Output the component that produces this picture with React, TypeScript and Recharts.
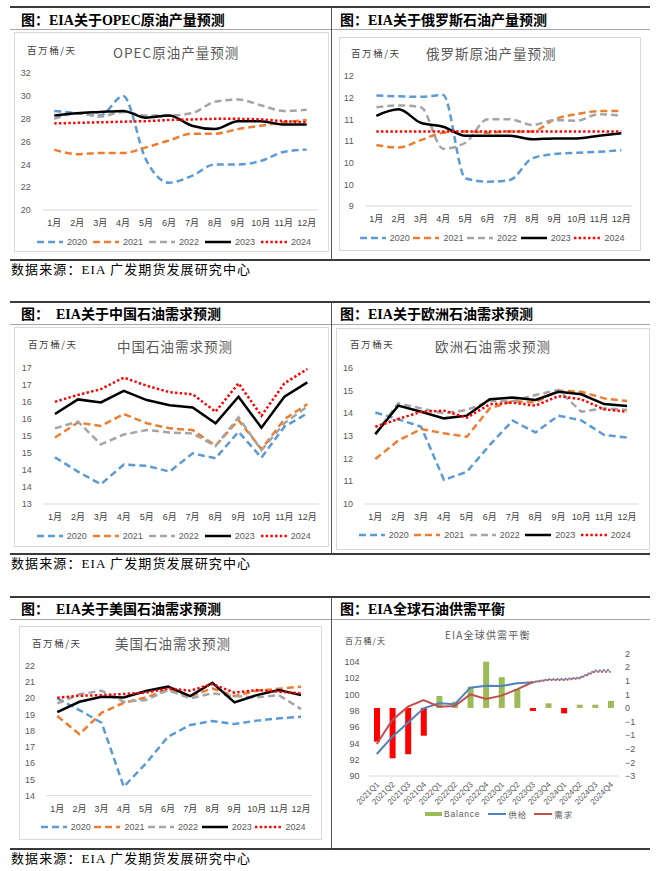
import React from 'react';
import { LineChart, Line, XAxis, YAxis, ComposedChart, Bar, Cell } from 'recharts';

// ---- data ----
const months = ['1月', '2月', '3月', '4月', '5月', '6月', '7月', '8月', '9月', '10月', '11月', '12月'];

const opec2020 = [28.7, 28.5, 28.3, 30.0, 24.4, 22.4, 23.0, 24.0, 24.0, 24.3, 25.1, 25.3];
const opec2021 = [25.3, 24.9, 25.0, 25.0, 25.5, 26.1, 26.7, 26.7, 27.1, 27.4, 27.7, 27.9];
const opec2022 = [28.0, 28.5, 28.2, 28.6, 28.3, 28.3, 28.5, 29.5, 29.7, 29.2, 28.7, 28.8];
const opec2023 = [28.3, 28.5, 28.6, 28.7, 28.1, 28.3, 27.4, 27.1, 27.8, 27.8, 27.5, 27.5];
const opec2024 = [27.6, 27.65, 27.7, 27.75, 27.8, 27.9, 27.95, 28.0, 28.0, 27.95, 27.8, 27.7];

const rus2020 = [11.55, 11.53, 11.52, 11.56, 9.64, 9.56, 9.6, 10.1, 10.2, 10.23, 10.25, 10.29];
const rus2021 = [10.41, 10.35, 10.52, 10.69, 10.72, 10.69, 10.72, 10.72, 11.0, 11.12, 11.19, 11.19];
const rus2022 = [11.28, 11.32, 11.28, 10.32, 10.46, 11.0, 11.0, 10.87, 10.98, 10.97, 11.12, 11.08];
const rus2023 = [11.08, 11.23, 10.92, 10.83, 10.62, 10.62, 10.62, 10.54, 10.56, 10.56, 10.62, 10.68];
const rus2024 = [10.72, 10.72, 10.72, 10.72, 10.72, 10.72, 10.72, 10.72, 10.72, 10.72, 10.72, 10.72];

const chn2020 = [14.37, 13.95, 13.58, 14.16, 14.12, 13.95, 14.49, 14.34, 15.12, 14.36, 15.27, 15.66];
const chn2021 = [14.95, 15.39, 15.29, 15.64, 15.37, 15.22, 15.17, 14.71, 15.46, 14.61, 15.49, 15.93];
const chn2022 = [15.22, 15.42, 14.75, 15.04, 15.17, 15.1, 15.07, 14.7, 15.54, 14.58, 15.37, 15.86];
const chn2023 = [15.64, 16.07, 15.98, 16.32, 16.05, 15.9, 15.83, 15.37, 16.15, 15.24, 16.15, 16.57];
const chn2024 = [16.0, 16.2, 16.37, 16.71, 16.47, 16.28, 16.22, 15.71, 16.54, 15.59, 16.54, 16.96];

const eur2020 = [14.03, 13.73, 13.4, 11.06, 11.42, 12.6, 13.67, 13.15, 13.89, 13.68, 13.04, 12.93];
const eur2021 = [11.98, 12.79, 13.3, 13.11, 12.96, 14.21, 14.53, 14.47, 14.99, 14.94, 14.65, 14.53];
const eur2022 = [13.1, 14.43, 14.21, 13.99, 14.14, 14.53, 14.53, 14.8, 15.02, 14.06, 14.21, 14.14];
const eur2023 = [13.07, 14.33, 14.06, 13.77, 13.89, 14.61, 14.69, 14.58, 14.94, 14.83, 14.4, 14.31];
const eur2024 = [13.4, 13.74, 14.06, 14.11, 13.8, 14.39, 14.46, 14.33, 14.75, 14.61, 14.17, 14.06];

const usa2020 = [19.99, 19.27, 18.49, 14.55, 15.99, 17.63, 18.35, 18.6, 18.41, 18.62, 18.76, 18.86];
const usa2021 = [18.9, 17.79, 19.1, 19.72, 20.05, 20.54, 20.13, 20.6, 20.13, 20.46, 20.58, 20.71];
const usa2022 = [19.68, 20.24, 20.46, 19.78, 19.89, 20.5, 19.99, 20.3, 20.13, 20.05, 20.19, 19.33];
const usa2023 = [19.15, 19.78, 20.09, 20.05, 20.44, 20.71, 20.13, 20.95, 19.74, 20.19, 20.5, 20.19];
const usa2024 = [20.03, 20.15, 20.19, 20.26, 20.34, 20.6, 20.46, 20.87, 20.34, 20.5, 20.4, 20.3];

const quarters = [
  '2021Q1', '2021Q2', '2021Q3', '2021Q4', '2022Q1', '2022Q2', '2022Q3', '2022Q4',
  '2023Q1', '2023Q2', '2023Q3', '2023Q4', '2024Q1', '2024Q2', '2024Q3', '2024Q4',
];
const balance = [-1.24, -1.85, -1.7, -1.02, 0.44, 0.23, 0.78, 1.7, 1.13, 0.69, -0.11, 0.17, -0.2, 0.12, 0.12, 0.26];
const supply = [92.69, 94.82, 96.53, 98.29, 98.9, 98.78, 100.82, 101.06, 101.02, 101.35, 101.47, 101.84, 101.88, 102.04, 102.9, 102.98];
const demand = [93.92, 96.86, 98.49, 99.31, 98.49, 98.57, 100.0, 99.43, 99.84, 100.61, 101.51, 101.76, 101.76, 101.96, 102.78, 102.78];
const forecastFrom = 10; // 2023Q3 onward drawn dotted

// ---- styles ----
const FONT_SANS = '"Liberation Sans", Arial, "Noto Sans CJK SC", sans-serif';
const FONT_CJK = '"Noto Sans CJK SC", "Liberation Sans", sans-serif';
const FONT_SERIF = '"Liberation Serif", "Noto Sans CJK SC", serif';
const AXIS_GRAY = '#d9d9d9';
const TEXT_GRAY = '#595959';

type Series = { key: string; name: string; color: string; width: number; dash?: string };

const yearSeries: Series[] = [
  { key: 'y2020', name: '2020', color: '#5B9BD5', width: 2.5, dash: '7 4' },
  { key: 'y2021', name: '2021', color: '#ED7D31', width: 2.5, dash: '7 4' },
  { key: 'y2022', name: '2022', color: '#A5A5A5', width: 2.5, dash: '7 4' },
  { key: 'y2023', name: '2023', color: '#000000', width: 2.5 },
  { key: 'y2024', name: '2024', color: '#FF0000', width: 2.5, dash: '2.4 2.3' },
];

const toRows = (cols: number[][]) =>
  months.map((m, i) => {
    const row: Record<string, string | number> = { month: m };
    yearSeries.forEach((s, k) => {
      row[s.key] = cols[k][i];
    });
    return row;
  });

const roundFmt = (v: number) => String(Math.round(v));
const plainFmt = (v: number) => String(v);
const signedFmt = (v: number) => {
  const r = Math.sign(v) * Math.round(Math.abs(v));
  return r < 0 ? '\u2212' + Math.abs(r) : String(r);
};
const range = (a: number, b: number, step: number) => {
  const out: number[] = [];
  for (let v = a; v <= b + 1e-9; v += step) out.push(Math.round(v * 100) / 100);
  return out;
};

type Box = { x: number; y: number; w: number; h: number };

const Txt = ({ x, cy, size, children, color = '#000', family = FONT_CJK, weight = 400, ls = 0 }: any) => (
  <div
    style={{
      position: 'absolute',
      left: x,
      top: cy - 9,
      height: 18,
      lineHeight: '18px',
      fontSize: size,
      color,
      fontFamily: family,
      fontWeight: weight,
      letterSpacing: ls,
      whiteSpace: 'nowrap',
    }}
  >
    {children}
  </div>
);

const Rule = ({ x, y, w, h, color }: any) => (
  <div style={{ position: 'absolute', left: x, top: y, width: w, height: h, background: color }} />
);

const YearLegend = ({ x, cy, step }: { x: number; cy: number; step: number }) => (
  <div style={{ position: 'absolute', left: x, top: cy - 6, height: 12, display: 'flex' }}>
    {yearSeries.map((s) => (
      <div key={s.key} style={{ width: step, display: 'flex', alignItems: 'center' }}>
        <svg width={26} height={6}>
          <line x1={0} x2={26} y1={3} y2={3} stroke={s.color} strokeWidth={s.width} strokeDasharray={s.dash} />
        </svg>
        <span style={{ marginLeft: 4, fontSize: 9, color: TEXT_GRAY, fontFamily: FONT_SANS, lineHeight: '12px' }}>
          {s.name}
        </span>
      </div>
    ))}
  </div>
);

type LinePanelProps = {
  frame: Box;
  plot: { x1: number; x2: number; y1: number; y2: number };
  rows: Record<string, string | number>[];
  domain: [number, number];
  ticks: number[];
  fmt: (v: number) => string;
  labelGap: number;
  curve: 'linear' | 'monotone';
  title: string;
  titleAt: [number, number];
  unit: string;
  unitAt: [number, number];
  legendAt: [number, number, number];
};

const LinePanel = (p: LinePanelProps) => {
  const { frame, plot } = p;
  const band = (plot.x2 - plot.x1) / 12;
  const xAxisH = 20;
  const margin = {
    top: plot.y1 - frame.y,
    right: frame.x + frame.w - plot.x2,
    bottom: frame.y + frame.h - plot.y2 - xAxisH,
    left: 0,
  };
  return (
    <>
      <div
        style={{
          position: 'absolute',
          left: frame.x,
          top: frame.y,
          width: frame.w,
          height: frame.h,
          border: '1px solid ' + AXIS_GRAY,
          boxSizing: 'border-box',
        }}
      />
      <div style={{ position: 'absolute', left: frame.x, top: frame.y }}>
        <LineChart width={frame.w} height={frame.h} data={p.rows} margin={margin}>
          <XAxis
            dataKey="month"
            height={xAxisH}
            interval={0}
            tickLine={false}
            tickSize={0}
            tickMargin={10}
            axisLine={{ stroke: AXIS_GRAY }}
            padding={{ left: band / 2, right: band / 2 }}
            tick={{ fontSize: 9, fill: '#404040', fontFamily: FONT_SANS }}
          />
          <YAxis
            width={plot.x1 - frame.x}
            domain={p.domain}
            ticks={p.ticks}
            interval={0}
            allowDataOverflow
            tickFormatter={p.fmt}
            axisLine={false}
            tickLine={false}
            tickSize={0}
            tickMargin={p.labelGap}
            tick={{ fontSize: 9, fill: TEXT_GRAY, fontFamily: FONT_SANS }}
          />
          {yearSeries.map((s) => (
            <Line
              key={s.key}
              dataKey={s.key}
              type={p.curve}
              stroke={s.color}
              strokeWidth={s.width}
              strokeDasharray={s.dash}
              dot={false}
              activeDot={false}
              isAnimationActive={false}
            />
          ))}
        </LineChart>
      </div>
      <Txt x={p.unitAt[0]} cy={p.unitAt[1]} size={9.5} color="#404040" ls={1.6}>
        {p.unit}
      </Txt>
      <Txt x={p.titleAt[0]} cy={p.titleAt[1]} size={13.5} color={TEXT_GRAY} ls={1}>
        {p.title}
      </Txt>
      <YearLegend x={p.legendAt[0]} cy={p.legendAt[1]} step={p.legendAt[2]} />
    </>
  );
};

const balanceRows = quarters.map((q, i) => ({
  q,
  balance: balance[i],
  supplySolid: i <= forecastFrom ? supply[i] : null,
  supplyDotted: i >= forecastFrom ? supply[i] : null,
  demandSolid: i <= forecastFrom ? demand[i] : null,
  demandDotted: i >= forecastFrom ? demand[i] : null,
}));

const QuarterTick = (props: any) => {
  const { x, y, payload } = props;
  return (
    <g transform={`translate(${x + 3},${y + 9})`}>
      <text
        x={0}
        y={0}
        textAnchor="end"
        transform="rotate(-45)"
        fontSize={8}
        fill={TEXT_GRAY}
        fontFamily={FONT_SANS}
      >
        {payload.value}
      </text>
    </g>
  );
};

const BalancePanel = () => {
  const box = { x: 332, y: 625, w: 316, h: 200 };
  const plot = { x1: 369, x2: 618.5, y1: 653.5, y2: 776 };
  return (
    <>
      <div style={{ position: 'absolute', left: box.x, top: box.y }}>
        <ComposedChart
          width={box.w}
          height={box.h}
          data={balanceRows}
          margin={{ top: plot.y1 - box.y, right: 0, bottom: 0, left: 0 }}
        >
          <XAxis
            dataKey="q"
            height={box.y + box.h - plot.y2}
            interval={0}
            tickLine={false}
            tickSize={0}
            tickMargin={0}
            axisLine={{ stroke: AXIS_GRAY }}
            tick={QuarterTick}
          />
          <YAxis
            yAxisId="left"
            width={plot.x1 - box.x}
            domain={[90, 105]}
            ticks={range(90, 104, 2)}
            interval={0}
            tickFormatter={plainFmt}
            axisLine={false}
            tickLine={false}
            tickSize={0}
            tickMargin={9.5}
            tick={{ fontSize: 9, fill: TEXT_GRAY, fontFamily: FONT_SANS }}
          />
          <YAxis
            yAxisId="right"
            orientation="right"
            width={box.x + box.w - plot.x2}
            domain={[-2.5, 2]}
            ticks={range(-2.5, 2, 0.5)}
            interval={0}
            tickFormatter={signedFmt}
            axisLine={false}
            tickLine={false}
            tickSize={0}
            tickMargin={6.5}
            tick={{ fontSize: 9, fill: TEXT_GRAY, fontFamily: FONT_SANS }}
          />
          <Bar yAxisId="right" dataKey="balance" barSize={6} isAnimationActive={false}>
            {balanceRows.map((r) => (
              <Cell key={r.q} fill={r.balance < 0 ? '#FF0000' : '#9BBB59'} />
            ))}
          </Bar>
          <Line yAxisId="left" dataKey="supplySolid" type="linear" stroke="#4F81BD" strokeWidth={2} dot={false} activeDot={false} isAnimationActive={false} />
          <Line yAxisId="left" dataKey="demandSolid" type="linear" stroke="#C0504D" strokeWidth={2} dot={false} activeDot={false} isAnimationActive={false} />
          <Line yAxisId="left" dataKey="supplyDotted" type="linear" stroke="#4F81BD" strokeWidth={2} strokeDasharray="2 2" dot={false} activeDot={false} isAnimationActive={false} />
          <Line yAxisId="left" dataKey="demandDotted" type="linear" stroke="#C0504D" strokeWidth={2} strokeDasharray="2 2" strokeDashoffset={2} dot={false} activeDot={false} isAnimationActive={false} />
        </ComposedChart>
      </div>
      <Txt x={345} cy={641} size={8} color="#404040" ls={1.2}>
        百万桶/天
      </Txt>
      <Txt x={445} cy={635} size={10} color={TEXT_GRAY} ls={1.2}>
        EIA全球供需平衡
      </Txt>
      <div style={{ position: 'absolute', left: 425, top: 808, height: 12, display: 'flex', alignItems: 'center' }}>
        <div style={{ width: 17, height: 4, background: '#9BBB59' }} />
        <span style={{ marginLeft: 2, fontSize: 8.5, color: TEXT_GRAY, fontFamily: FONT_SANS, letterSpacing: 0.8 }}>Balance</span>
        <div style={{ marginLeft: 8, width: 18, height: 2, background: '#4F81BD' }} />
        <span style={{ marginLeft: 2, fontSize: 8.5, color: TEXT_GRAY, fontFamily: FONT_CJK, letterSpacing: 1 }}>供给</span>
        <div style={{ marginLeft: 7, width: 18, height: 2, background: '#C0504D' }} />
        <span style={{ marginLeft: 2, fontSize: 8.5, color: TEXT_GRAY, fontFamily: FONT_CJK, letterSpacing: 1 }}>需求</span>
      </div>
    </>
  );
};

const HEAD = { size: 14, family: FONT_SERIF, weight: 700 };
const SOURCE = '数据来源：EIA 广发期货发展研究中心';

const RowFrame = ({ top, bottom, headerY, left, right }: any) => (
  <>
    <Rule x={10} y={top - 1} w={640} h={2} color="#3a3a3a" />
    <Rule x={10} y={top + 22} w={640} h={1} color="#a6a6a6" />
    <Rule x={10} y={bottom - 1} w={640} h={2} color="#3a3a3a" />
    <Rule x={330.5} y={top} w={1} h={bottom - top} color="#555" />
    <Txt x={21} cy={headerY} size={HEAD.size} family={HEAD.family} weight={HEAD.weight}>
      {left}
    </Txt>
    <Txt x={340} cy={headerY} size={HEAD.size} family={HEAD.family} weight={HEAD.weight}>
      {right}
    </Txt>
    <Txt x={11} cy={bottom + 10} size={13} family={FONT_SERIF} ls={1.1}>
      {SOURCE}
    </Txt>
  </>
);

export default function App() {
  return (
    <div
      style={{
        position: 'absolute',
        left: 0,
        top: 0,
        width: 658,
        height: 871,
        background: '#fff',
        overflow: 'hidden',
      }}
    >
      <RowFrame top={7} bottom={259.5} headerY={20.5} left="图：EIA关于OPEC原油产量预测" right="图：EIA关于俄罗斯石油产量预测" />
      <RowFrame top={302} bottom={554} headerY={314.5} left={'图：\u00a0\u00a0EIA关于中国石油需求预测'} right="图：EIA关于欧洲石油需求预测" />
      <RowFrame top={597} bottom={848.5} headerY={609.5} left={'图：\u00a0\u00a0EIA关于美国石油需求预测'} right="图：EIA全球石油供需平衡" />

      <LinePanel
        frame={{ x: 14, y: 32, w: 315, h: 220 }}
        plot={{ x1: 42.8, x2: 318.2, y1: 73.3, y2: 210 }}
        rows={toRows([opec2020, opec2021, opec2022, opec2023, opec2024])}
        domain={[20, 32]}
        ticks={range(20, 32, 2)}
        fmt={plainFmt}
        labelGap={12}
        curve="monotone"
        title="OPEC原油产量预测"
        titleAt={[113, 52]}
        unit="百万桶/天"
        unitAt={[27, 50]}
        legendAt={[37, 242, 56]}
      />
      <LinePanel
        frame={{ x: 339, y: 37, w: 302, h: 214 }}
        plot={{ x1: 365.2, x2: 632.4, y1: 76, y2: 206 }}
        rows={toRows([rus2020, rus2021, rus2022, rus2023, rus2024])}
        domain={[9, 12]}
        ticks={range(9, 12, 0.5)}
        fmt={roundFmt}
        labelGap={11.5}
        curve="monotone"
        title="俄罗斯原油产量预测"
        titleAt={[426, 53]}
        unit="百万桶/天"
        unitAt={[351, 53]}
        legendAt={[359.7, 237.7, 53.7]}
      />
      <LinePanel
        frame={{ x: 14, y: 327, w: 315, h: 220 }}
        plot={{ x1: 43.5, x2: 318.8, y1: 367.7, y2: 504 }}
        rows={toRows([chn2020, chn2021, chn2022, chn2023, chn2024])}
        domain={[13, 17]}
        ticks={range(13, 17, 0.5)}
        fmt={roundFmt}
        labelGap={11.8}
        curve="linear"
        title="中国石油需求预测"
        titleAt={[117, 345.7]}
        unit="百万桶/天"
        unitAt={[28, 344]}
        legendAt={[36.7, 535.7, 56]}
      />
      <LinePanel
        frame={{ x: 336, y: 328, w: 314, h: 222 }}
        plot={{ x1: 363.9, x2: 638.5, y1: 367.7, y2: 504 }}
        rows={toRows([eur2020, eur2021, eur2022, eur2023, eur2024])}
        domain={[10, 16]}
        ticks={range(10, 16, 1)}
        fmt={plainFmt}
        labelGap={11}
        curve="linear"
        title="欧洲石油需求预测"
        titleAt={[435, 346]}
        unit="百万桶天"
        unitAt={[350, 344]}
        legendAt={[358.7, 535, 55.5]}
      />
      <LinePanel
        frame={{ x: 19, y: 626, w: 303, h: 214 }}
        plot={{ x1: 46.2, x2: 312.1, y1: 665.7, y2: 795.7 }}
        rows={toRows([usa2020, usa2021, usa2022, usa2023, usa2024])}
        domain={[14, 22]}
        ticks={range(14, 22, 1)}
        fmt={plainFmt}
        labelGap={11.2}
        curve="linear"
        title="美国石油需求预测"
        titleAt={[115, 643]}
        unit="百万桶/天"
        unitAt={[32, 643]}
        legendAt={[40.7, 826.7, 53.7]}
      />
      <BalancePanel />
    </div>
  );
}
